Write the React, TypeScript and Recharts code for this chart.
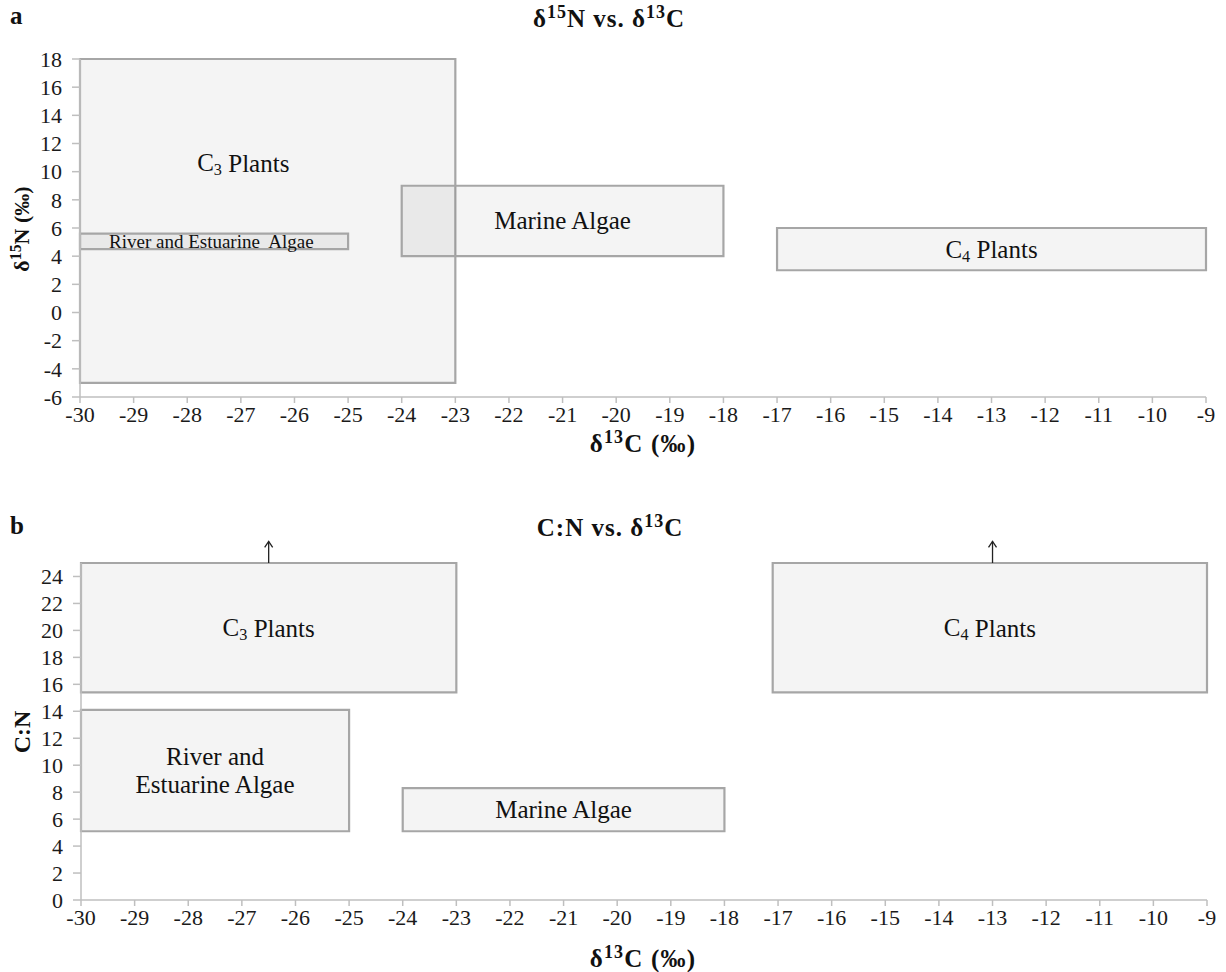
import React from "react";
import {
  ComposedChart,
  XAxis,
  YAxis,
  ReferenceArea,
  ReferenceLine,
} from "recharts";

const X_TICKS = [-30, -29, -28, -27, -26, -25, -24, -23, -22, -21, -20, -19, -18, -17, -16, -15, -14, -13, -12, -11, -10, -9];
const N_TICKS = [-6, -4, -2, 0, 2, 4, 6, 8, 10, 12, 14, 16, 18];
const CN_TICKS = [0, 2, 4, 6, 8, 10, 12, 14, 16, 18, 20, 22, 24];

// panel a: δ15N vs δ13C ranges
const ISO_NAMES = ["C3 Plants", "River and Estuarine  Algae", "Marine Algae", "C4 Plants"];
const ISO_X1 = [-30, -30, -24, -17];
const ISO_X2 = [-23, -25, -18, -9];
const ISO_Y1 = [-5, 4.5, 4, 3];
const ISO_Y2 = [18, 5.6, 9, 6];

// panel b: C:N vs δ13C ranges
const CN_NAMES = ["C3 Plants", "River and|Estuarine Algae", "Marine Algae", "C4 Plants"];
const CN_X1 = [-30, -30, -24, -17.1];
const CN_X2 = [-23, -25, -18, -9];
const CN_Y1 = [15.4, 5.1, 5.1, 15.4];
const CN_Y2 = [25, 14.1, 8.3, 25];

// open-ended ranges (arrows)
const ARROW_X = [-26.5, -13];
const ARROW_FROM = 25;
const ARROW_TO = 26.6;

const FONT = "Liberation Serif, Times New Roman, serif";
const AXIS_GRAY = "#bfbfbf";
const BOX_STROKE = "#a6a6a6";

function LabelText({ text, x, y, fontSize }: { text: string; x: number; y: number; fontSize: number }) {
  const m = text.match(/^C(\d) (.*)$/);
  if (m) {
    return (
      <text x={x} y={y} textAnchor="middle" dominantBaseline="central" fontSize={fontSize} fontFamily={FONT} fill="#111">
        C
        <tspan fontSize={fontSize * 0.65} dy={fontSize * 0.3}>{m[1]}</tspan>
        <tspan dy={-fontSize * 0.3}>{" " + m[2]}</tspan>
      </text>
    );
  }
  const lines = text.split("|");
  const lh = fontSize * 1.13;
  return (
    <text textAnchor="middle" fontSize={fontSize} fontFamily={FONT} fill="#111" style={{ whiteSpace: "pre" }}>
      {lines.map((l, i) => (
        <tspan key={i} x={x} y={y + (i - (lines.length - 1) / 2) * lh} dominantBaseline="central">
          {l}
        </tspan>
      ))}
    </text>
  );
}

const boxLabel = (text: string, fontSize: number, fx = 0.5, fy = 0.5) => (p: any) => {
  const vb = p.viewBox || {};
  return <LabelText text={text} x={vb.x + vb.width * fx} y={vb.y + vb.height * fy} fontSize={fontSize} />;
};

const arrowShape = (p: any) => {
  const { x1, y1, x2, y2 } = p;
  return (
    <g>
      <line x1={x1} y1={y1} x2={x2} y2={y2} stroke="#222" strokeWidth={1.3} />
      <polyline points={`${x2 - 4},${y2 + 6} ${x2},${y2} ${x2 + 4},${y2 + 6}`} fill="none" stroke="#222" strokeWidth={1.3} />
    </g>
  );
};

const tickStyle = { fontSize: 22, fontFamily: FONT, fill: "#1a1a1a" };

const boxStyle = {
  fill: "#000",
  fillOpacity: 0.045,
  stroke: BOX_STROKE,
  strokeWidth: 2.2,
  strokeOpacity: 1,
};

function Sup({ children }: { children: React.ReactNode }) {
  return <sup style={{ fontSize: "0.72em", lineHeight: 0, verticalAlign: "0.5em" }}>{children}</sup>;
}

const textBold: React.CSSProperties = {
  position: "absolute",
  fontFamily: FONT,
  fontWeight: "bold",
  fontSize: 25,
  lineHeight: "26px",
  whiteSpace: "nowrap",
  color: "#111",
};

export default function App() {
  const isoFrac: [number, number][] = [[0.435, 0.32], [0.49, 0.5], [0.5, 0.5], [0.5, 0.5]];
  const isoFont = [25, 19, 25, 25];
  return (
    <div style={{ position: "absolute", left: 0, top: 0, width: 1226, height: 972, background: "#fff", fontFamily: FONT }}>
      {/* panel a */}
      <div style={{ ...textBold, left: 10, top: 3 }}>a</div>
      <div style={{ ...textBold, left: 0, width: 1218, top: 6, textAlign: "center", letterSpacing: 1 }}>
        δ<Sup>15</Sup>N vs. δ<Sup>13</Sup>C
      </div>
      <div style={{ ...textBold, fontSize: 22, left: 22, top: 229, transform: "translate(-50%,-50%) rotate(-90deg)" }}>
        δ<Sup>15</Sup>N (‰)
      </div>
      <div style={{ ...textBold, lineHeight: "20px", left: 643, top: 444, transform: "translate(-50%,-50%)", letterSpacing: 1.2 }}>
        δ<Sup>13</Sup>C (‰)
      </div>
      <div style={{ position: "absolute", left: 0, top: 0 }}>
        <ComposedChart width={1226} height={460} margin={{ top: 59, right: 20, bottom: 33, left: 10 }}>
          <XAxis
            type="number"
            dataKey="x"
            domain={[-30, -9]}
            ticks={X_TICKS}
            interval={0}
            height={30}
            tick={tickStyle}
            tickSize={6}
            tickMargin={3}
            stroke={AXIS_GRAY}
            strokeWidth={1.5}
            allowDataOverflow
          />
          <YAxis
            type="number"
            dataKey="y"
            domain={[-6, 18]}
            ticks={N_TICKS}
            interval={0}
            width={70}
            tick={tickStyle}
            tickSize={8}
            tickMargin={10}
            stroke={AXIS_GRAY}
            strokeWidth={1.5}
            allowDataOverflow
          />
          {ISO_NAMES.map((n, i) => (
            <ReferenceArea
              key={n}
              x1={ISO_X1[i]}
              x2={ISO_X2[i]}
              y1={ISO_Y1[i]}
              y2={ISO_Y2[i]}
              {...boxStyle}
              ifOverflow="visible"
              label={boxLabel(n, isoFont[i], isoFrac[i][0], isoFrac[i][1])}
            />
          ))}
        </ComposedChart>
      </div>

      {/* panel b */}
      <div style={{ ...textBold, left: 10, top: 513 }}>b</div>
      <div style={{ ...textBold, left: 0, width: 1220, top: 515, textAlign: "center", letterSpacing: 1 }}>
        C:N vs. δ<Sup>13</Sup>C
      </div>
      <div style={{ ...textBold, fontSize: 24, left: 22, top: 732, transform: "translate(-50%,-50%) rotate(-90deg)" }}>
        C:N
      </div>
      <div style={{ ...textBold, lineHeight: "20px", left: 643, top: 959, transform: "translate(-50%,-50%)", letterSpacing: 1.2 }}>
        δ<Sup>13</Sup>C (‰)
      </div>
      <div style={{ position: "absolute", left: 0, top: 470 }}>
        <ComposedChart width={1226} height={502} margin={{ top: 93, right: 19, bottom: 42, left: 11 }}>
          <XAxis
            type="number"
            dataKey="x"
            domain={[-30, -9]}
            ticks={X_TICKS}
            interval={0}
            height={30}
            tick={tickStyle}
            tickSize={6}
            tickMargin={3}
            stroke={AXIS_GRAY}
            strokeWidth={1.5}
            allowDataOverflow
          />
          <YAxis
            type="number"
            dataKey="y"
            domain={[0, 25]}
            ticks={CN_TICKS}
            interval={0}
            width={70}
            tick={tickStyle}
            tickSize={8}
            tickMargin={10}
            stroke={AXIS_GRAY}
            strokeWidth={1.5}
            allowDataOverflow
          />
          {CN_NAMES.map((n, i) => (
            <ReferenceArea
              key={n}
              x1={CN_X1[i]}
              x2={CN_X2[i]}
              y1={CN_Y1[i]}
              y2={CN_Y2[i]}
              {...boxStyle}
              ifOverflow="visible"
              label={boxLabel(n, 25)}
            />
          ))}
          {ARROW_X.map((x) => (
            <ReferenceLine
              key={x}
              segment={[{ x, y: ARROW_FROM }, { x, y: ARROW_TO }]}
              ifOverflow="visible"
              shape={arrowShape}
            />
          ))}
        </ComposedChart>
      </div>
    </div>
  );
}
